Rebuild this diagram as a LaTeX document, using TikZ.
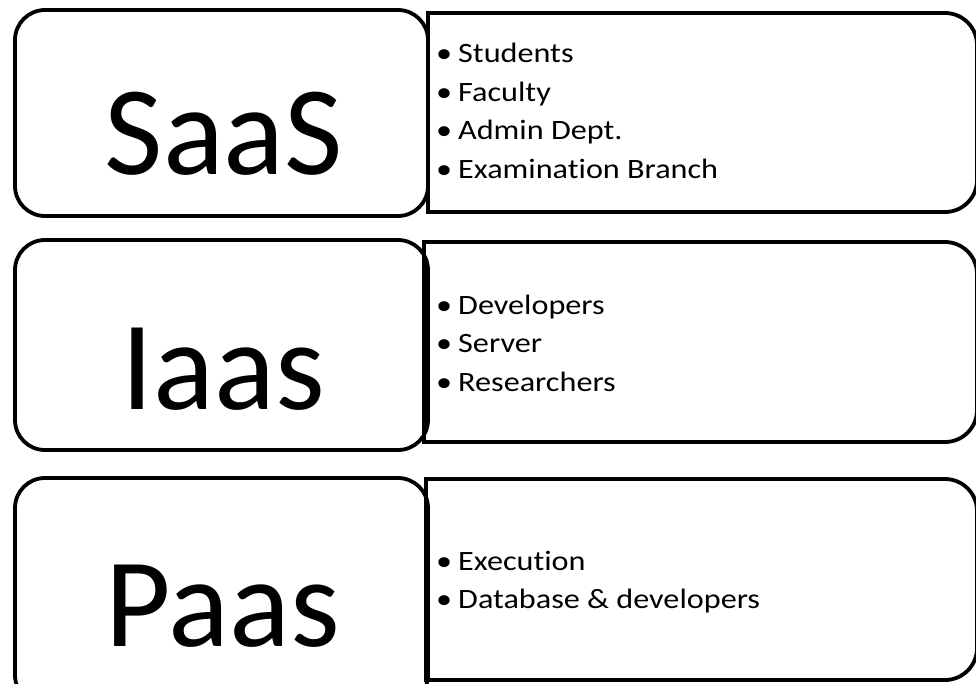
\documentclass[tikz,border=0pt]{standalone}
\usepackage{fontspec}
\setmainfont{Carlito}
\newfontfamily\listfont[FakeStretch=1.15, Ligatures=CommonOff]{Carlito}
\usetikzlibrary{calc, positioning}

\tikzset{
  svcbox/.style={draw, line width=3.8pt, rounded corners=30pt},
  usrbox/.style={draw, line width=3.8pt, line join=miter},
  svclabel/.style={font=\fontsize{127}{127}\selectfont, inner sep=0pt},
  usrlist/.style={font=\listfont\fontsize{28}{38.5}\selectfont, align=left, anchor=west, inner sep=0pt}
}
\newcommand{\itm}[1]{\makebox[22pt][l]{\textbullet}#1}

\begin{document}
\begin{tikzpicture}[x=1pt, y=-1pt]
\def\xL{15}
\def\xM{428}
\def\xR{977}
\def\rr{32}
\useasboundingbox (0,0) rectangle (976,683);
\clip (0,0) rectangle (976,683);

% service boxes on the left
\draw[svcbox] (\xL,10) rectangle (\xM,216);
\draw[svcbox] (\xL,240) rectangle (\xM,450);
\draw[svcbox] (\xL,478) rectangle (\xM,705);

% user boxes on the right
\draw[usrbox] (\xM,212) -- (\xM,13) -- (\xR-\rr,13)
  arc[start angle=-90, end angle=0, radius=\rr] -- (\xR,212-\rr)
  arc[start angle=0, end angle=90, radius=\rr] -- cycle;
\draw[usrbox] (\xM-4,442) -- (\xM-4,242) -- (\xR-\rr,242)
  arc[start angle=-90, end angle=0, radius=\rr] -- (\xR,442-\rr)
  arc[start angle=0, end angle=90, radius=\rr] -- cycle;
\draw[usrbox] (\xM-2,680) -- (\xM-2,479) -- (\xR-\rr,479)
  arc[start angle=-90, end angle=0, radius=\rr] -- (\xR,680-\rr)
  arc[start angle=0, end angle=90, radius=\rr] -- cycle;

% labels
\node[svclabel] (saas) at (224,134) {SaaS};
\node[svclabel] (iaas) at (223,369) {Iaas};
\node[svclabel] (paas) at (223,606) {Paas};

\node[usrlist] (saasusers) at (436,111) {\itm{Students}\\ \itm{Faculty}\\ \itm{Admin Dept.}\\ \itm{Examination Branch}};
\node[usrlist] (iaasusers) at (436,343) {\itm{Developers}\\ \itm{Server}\\ \itm{Researchers}};
\node[usrlist] (paasusers) at (436,582) {\itm{Execution}\\ \itm{Database \& developers}};
\end{tikzpicture}
\end{document}
